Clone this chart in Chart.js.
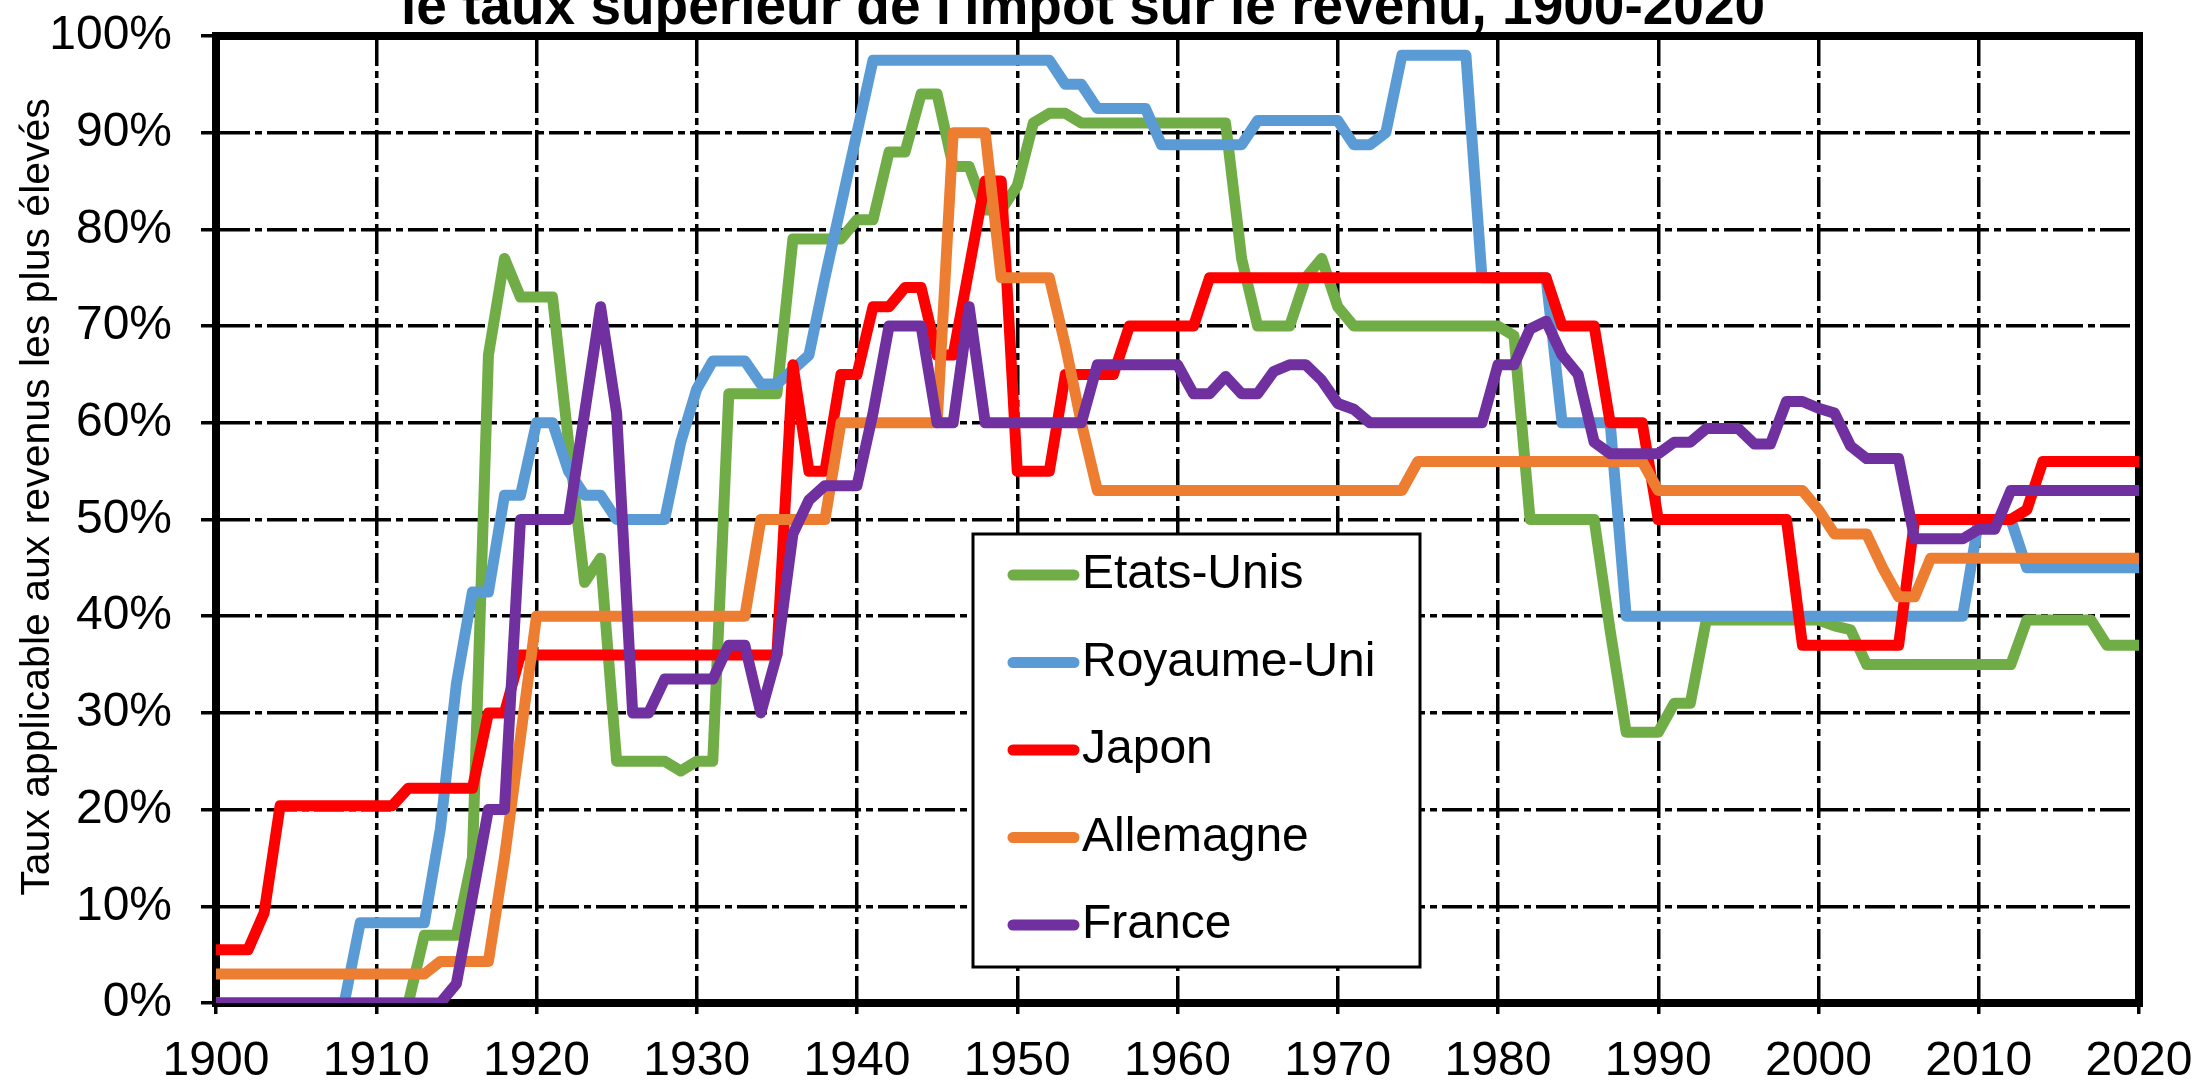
<!DOCTYPE html>
<html lang="fr">
<head>
<meta charset="utf-8">
<title>Taux supérieur de l'impôt sur le revenu, 1900-2020</title>
<script src="https://cdn.jsdelivr.net/npm/chart.js@4.4.1/dist/chart.umd.min.js"></script>
<style>
  html, body { margin: 0; padding: 0; background: #fff; }
  canvas { display: block; }
</style>
</head>
<body>
<canvas id="chart" width="2198" height="1081"></canvas>
<script>
// years on the x axis, 1900..2020
const years = [];
for (let y = 1900; y <= 2020; y++) years.push(y);

const yTicks = [0, 10, 20, 30, 40, 50, 60, 70, 80, 90, 100];

// top marginal rate, % (one row per decade)
const etatsUnis = [
  0, 0, 0, 0, 0, 0, 0, 0, 0, 0,
  0, 0, 0, 7, 7, 7, 15, 67, 77, 73,
  73, 73, 58, 43.5, 46, 25, 25, 25, 25, 24,
  25, 25, 63, 63, 63, 63, 79, 79, 79, 79,
  81, 81, 88, 88, 94, 94, 86.5, 86.5, 82, 82,
  84.5, 91, 92, 92, 91, 91, 91, 91, 91, 91,
  91, 91, 91, 91, 77, 70, 70, 70, 75, 77,
  72, 70, 70, 70, 70, 70, 70, 70, 70, 70,
  70, 69, 50, 50, 50, 50, 50, 38.5, 28, 28,
  28, 31, 31, 39.6, 39.6, 39.6, 39.6, 39.6, 39.6, 39.6,
  39.6, 39, 38.6, 35, 35, 35, 35, 35, 35, 35,
  35, 35, 35, 39.6, 39.6, 39.6, 39.6, 39.6, 37, 37,
  37
];

const royaumeUni = [
  0, 0, 0, 0, 0, 0, 0, 0, 0, 8.3,
  8.3, 8.3, 8.3, 8.3, 18, 33, 42.5, 42.5, 52.5, 52.5,
  60, 60, 55, 52.5, 52.5, 50, 50, 50, 50, 58,
  63.5, 66.4, 66.4, 66.4, 64, 64, 65.5, 67, 75, 82.5,
  90, 97.5, 97.5, 97.5, 97.5, 97.5, 97.5, 97.5, 97.5, 97.5,
  97.5, 97.5, 97.5, 95, 95, 92.5, 92.5, 92.5, 92.5, 88.75,
  88.75, 88.75, 88.75, 88.75, 88.75, 91.25, 91.25, 91.25, 91.25, 91.25,
  91.25, 88.75, 88.75, 90, 98, 98, 98, 98, 98, 75,
  75, 75, 75, 75, 60, 60, 60, 60, 40, 40,
  40, 40, 40, 40, 40, 40, 40, 40, 40, 40,
  40, 40, 40, 40, 40, 40, 40, 40, 40, 40,
  50, 50, 50, 45, 45, 45, 45, 45, 45, 45,
  45
];

const japon = [
  5.5, 5.5, 5.5, 9.3, 20.4, 20.4, 20.4, 20.4, 20.4, 20.4,
  20.4, 20.4, 22.2, 22.2, 22.2, 22.2, 22.2, 30, 30, 36,
  36, 36, 36, 36, 36, 36, 36, 36, 36, 36,
  36, 36, 36, 36, 36, 36, 66, 55, 55, 65,
  65, 72, 72, 74, 74, 67, 67, 76, 85, 85,
  55, 55, 55, 65, 65, 65, 65, 70, 70, 70,
  70, 70, 75, 75, 75, 75, 75, 75, 75, 75,
  75, 75, 75, 75, 75, 75, 75, 75, 75, 75,
  75, 75, 75, 75, 70, 70, 70, 60, 60, 60,
  50, 50, 50, 50, 50, 50, 50, 50, 50, 37,
  37, 37, 37, 37, 37, 37, 50, 50, 50, 50,
  50, 50, 50, 51, 56, 56, 56, 56, 56, 56,
  56
];

const allemagne = [
  3, 3, 3, 3, 3, 3, 3, 3, 3, 3,
  3, 3, 3, 3, 4.3, 4.3, 4.3, 4.3, 15, 27.5,
  40, 40, 40, 40, 40, 40, 40, 40, 40, 40,
  40, 40, 40, 40, 50, 50, 50, 50, 50, 60,
  60, 60, 60, 60, 60, 60, 90, 90, 90, 75,
  75, 75, 75, 68, 60, 53, 53, 53, 53, 53,
  53, 53, 53, 53, 53, 53, 53, 53, 53, 53,
  53, 53, 53, 53, 53, 56, 56, 56, 56, 56,
  56, 56, 56, 56, 56, 56, 56, 56, 56, 56,
  53, 53, 53, 53, 53, 53, 53, 53, 53, 53,
  51, 48.5, 48.5, 48.5, 45, 42, 42, 46, 46, 46,
  46, 46, 46, 46, 46, 46, 46, 46, 46, 46,
  46
];

const france = [
  0, 0, 0, 0, 0, 0, 0, 0, 0, 0,
  0, 0, 0, 0, 0, 2, 11, 20, 20, 50,
  50, 50, 50, 61, 72, 61, 30, 30, 33.5, 33.5,
  33.5, 33.5, 37, 37, 30, 36, 48.5, 52, 53.5, 53.5,
  53.5, 61, 70, 70, 70, 60, 60, 72, 60, 60,
  60, 60, 60, 60, 60, 66, 66, 66, 66, 66,
  66, 63, 63, 64.8, 63, 63, 65.3, 66, 66, 64.4,
  62, 61.4, 60, 60, 60, 60, 60, 60, 60, 60,
  66, 66, 69.7, 70.5, 67, 65, 58, 56.8, 56.8, 56.8,
  56.8, 58, 58, 59.4, 59.4, 59.4, 57.8, 57.8, 62.2, 62.2,
  61.5, 61, 57.6, 56.3, 56.3, 56.3, 48, 48, 48, 48,
  49, 49, 53, 53, 53, 53, 53, 53, 53, 53,
  53
];

const seriesNames = ["Etats-Unis", "Royaume-Uni", "Japon", "Allemagne", "France"];
const seriesValues = [etatsUnis, royaumeUni, japon, allemagne, france];
const seriesColors = ["#70AD47", "#5B9BD5", "#FF0000", "#ED7D31", "#7030A0"];

const titleText = "le taux supérieur de l'impôt sur le revenu, 1900-2020";
const yTitle = "Taux applicable aux revenus les plus élevés";

const FONT = '"Liberation Sans", Arial, sans-serif';
Chart.defaults.font.family = FONT;
Chart.defaults.color = "#000";

function toPoints(values) {
  return years.map((y, i) => ({ x: y, y: values[i] }));
}

// France drawn on top, Etats-Unis at the bottom (like the original)
const datasets = seriesNames.map((name, i) => ({
  label: name,
  data: toPoints(seriesValues[i]),
  borderColor: seriesColors[i],
  backgroundColor: seriesColors[i],
  borderWidth: 11,
  pointRadius: 0,
  tension: 0,
  borderJoinStyle: "round",
  borderCapStyle: "round",
  order: seriesNames.length - i
}));

const decorations = {
  id: "decorations",
  beforeDatasetsDraw(chart) {
    const { ctx, chartArea: a } = chart;
    ctx.save();
    ctx.strokeStyle = "#000";
    ctx.lineWidth = 8;
    ctx.beginPath();
    ctx.moveTo(a.left - 4, a.top);
    ctx.lineTo(a.right + 4, a.top);
    ctx.moveTo(a.right, a.top);
    ctx.lineTo(a.right, a.bottom + 4);
    ctx.stroke();
    ctx.restore();
  },
  afterDraw(chart) {
    const ctx = chart.ctx;
    ctx.save();

    // title, its top is cut off by the page edge
    ctx.fillStyle = "#000";
    ctx.font = "bold 55px " + FONT;
    ctx.textAlign = "center";
    ctx.textBaseline = "alphabetic";
    ctx.fillText(titleText, 1083, 24);

    // y axis title
    ctx.save();
    ctx.translate(38, 497);
    ctx.rotate(-Math.PI / 2);
    ctx.font = "41px " + FONT;
    ctx.textBaseline = "middle";
    ctx.fillText(yTitle, 0, 0);
    ctx.restore();

    // legend box inside the plot
    const bx = 973, by = 534, bw = 447, bh = 433;
    ctx.fillStyle = "#fff";
    ctx.fillRect(bx, by, bw, bh);
    ctx.strokeStyle = "#000";
    ctx.lineWidth = 3;
    ctx.strokeRect(bx, by, bw, bh);

    ctx.font = "48px " + FONT;
    ctx.textAlign = "left";
    ctx.textBaseline = "middle";
    chart.data.datasets.forEach((ds, i) => {
      const cy = 575 + i * 87.5;
      ctx.strokeStyle = ds.borderColor;
      ctx.lineWidth = 11;
      ctx.lineCap = "round";
      ctx.beginPath();
      ctx.moveTo(1013, cy);
      ctx.lineTo(1074, cy);
      ctx.stroke();
      ctx.fillStyle = "#000";
      ctx.fillText(ds.label, 1082, cy);
    });
    ctx.restore();
  }
};

const gridDash = [30, 5, 7, 5];

new Chart(document.getElementById("chart"), {
  type: "line",
  data: { datasets },
  plugins: [decorations],
  options: {
    responsive: false,
    devicePixelRatio: 1,
    animation: false,
    layout: { padding: { top: 36, right: 59, bottom: 0, left: 0 } },
    plugins: {
      legend: { display: false },
      tooltip: { enabled: false }
    },
    scales: {
      x: {
        type: "linear",
        min: years[0],
        max: years[years.length - 1],
        afterFit(scale) {
          scale.height = 78;
          scale.paddingLeft = 0;
          scale.paddingRight = 0;
        },
        ticks: {
          stepSize: 10,
          autoSkip: false,
          maxRotation: 0,
          padding: 19,
          font: { size: 48 },
          color: "#000",
          callback: v => String(v)
        },
        grid: { color: "#000", lineWidth: 3.5, tickLength: 11, tickWidth: 3.5 },
        border: { display: true, color: "#000", width: 8, dash: gridDash }
      },
      y: {
        min: yTicks[0],
        max: yTicks[yTicks.length - 1],
        afterFit(scale) {
          scale.width = 216;
          scale.paddingTop = 0;
          scale.paddingBottom = 0;
        },
        afterBuildTicks(scale) { scale.ticks = yTicks.map(v => ({ value: v })); },
        ticks: {
          padding: 29,
          font: { size: 48 },
          color: "#000",
          callback: v => v + "%"
        },
        grid: { color: "#000", lineWidth: 3.5, tickLength: 15, tickWidth: 3.5 },
        border: { display: true, color: "#000", width: 8, dash: gridDash }
      }
    }
  }
});
</script>
</body>
</html>
